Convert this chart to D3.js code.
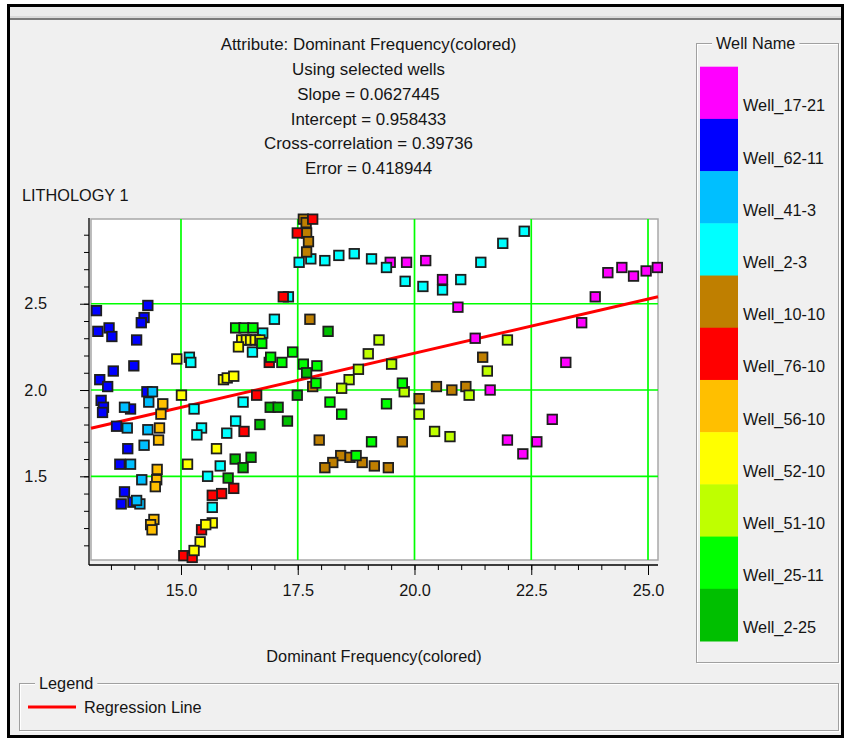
<!DOCTYPE html>
<html><head><meta charset="utf-8">
<script src="https://cdn.jsdelivr.net/npm/d3@7"></script>
<style>
body{margin:0;background:#fff}
text{font-family:"Liberation Sans",Arial,sans-serif;font-size:16.3px;fill:#151515}
</style>
</head><body>
<svg id="c" width="849" height="740"></svg>
<script>
// ---------------- DATA ----------------
const wellNames = ["Well_17-21","Well_62-11","Well_41-3","Well_2-3","Well_10-10","Well_76-10","Well_56-10","Well_52-10","Well_51-10","Well_25-11","Well_2-25"];
const wellColors = ["#ff00ff","#0000ff","#00bfff","#00ffff","#bf7f00","#ff0000","#ffbf00","#ffff00","#bfff00","#00ff00","#00bf00"];

const well_17_21 = [[19.48,2.74],[19.83,2.74],[20.24,2.75],[20.60,2.64],[20.93,2.48],[24.14,2.68],[24.44,2.71],[24.69,2.66],[24.96,2.69],[25.20,2.71],[23.87,2.54],[23.58,2.39],[21.30,2.30],[23.24,2.16],[21.62,2.00],[22.95,1.83],[21.99,1.71],[22.62,1.70],[22.32,1.63]];
const well_62_11 = [[13.19,2.46],[13.22,2.34],[13.46,2.36],[13.52,2.31],[14.29,2.49],[14.21,2.42],[14.15,2.39],[14.05,2.29],[13.99,2.14],[13.55,2.11],[13.26,2.06],[13.43,2.02],[13.29,1.94],[13.34,1.90],[13.32,1.87],[13.62,1.79],[13.92,1.89],[13.86,1.66],[13.69,1.57],[13.79,1.41],[13.72,1.34],[14.27,1.99],[13.97,1.35]];
const well_41_3 = [[13.85,1.78],[13.79,1.90],[13.92,1.57],[14.12,1.34],[14.05,1.36],[14.16,1.48],[14.21,1.68],[14.29,1.77],[14.39,1.99],[14.31,1.93]];
const well_2_3 = [[15.18,2.19],[15.21,2.16],[15.28,1.89],[15.44,1.78],[15.34,1.74],[15.98,1.75],[16.17,1.82],[16.33,1.93],[15.84,1.56],[15.57,1.50],[15.67,1.32],[16.53,2.22],[16.75,2.33],[17.00,2.41],[17.30,2.54],[17.53,2.74],[17.78,2.76],[18.08,2.75],[18.38,2.78],[18.71,2.79],[19.08,2.76],[19.40,2.71],[19.80,2.63],[20.18,2.60],[20.60,2.58],[20.99,2.64],[21.42,2.74],[21.89,2.85],[22.35,2.92]];
const well_10_10 = [[17.62,2.99],[17.68,2.97],[17.69,2.91],[17.73,2.86],[17.69,2.80],[17.76,2.41],[17.82,2.02],[20.47,2.02],[20.80,2.00],[21.10,2.02],[20.10,1.95],[21.46,2.19],[17.96,1.71],[19.74,1.70],[18.42,1.62],[18.62,1.61],[18.25,1.58],[18.08,1.55],[18.88,1.58],[19.14,1.56],[19.44,1.55]];
const well_76_10 = [[17.82,2.99],[17.49,2.91],[17.19,2.54],[16.62,1.97],[16.35,1.76],[16.89,2.16],[16.13,1.43],[15.87,1.40],[15.67,1.39],[15.44,1.19],[15.06,1.04],[15.24,1.03]];
const well_56_10 = [[14.61,1.92],[14.57,1.86],[14.54,1.78],[14.52,1.71],[14.49,1.54],[14.48,1.48],[14.45,1.44],[14.42,1.25],[14.35,1.22],[14.38,1.19]];
const well_52_10 = [[15.01,1.97],[14.91,2.18],[15.91,2.06],[15.99,2.07],[16.13,2.08],[16.30,2.29],[16.40,2.29],[16.49,2.29],[16.59,2.29],[16.69,2.29],[16.23,2.25],[15.76,1.66],[15.14,1.57],[15.67,1.23],[15.53,1.22],[15.41,1.12],[15.28,1.07]];
const well_51_10 = [[19.24,2.29],[19.01,2.21],[19.51,2.15],[18.80,2.12],[18.60,2.06],[18.44,2.01],[19.78,1.99],[21.17,1.97],[20.10,1.86],[20.43,1.76],[20.76,1.73],[21.99,2.29],[21.56,2.11]];
const well_25_11 = [[16.17,2.36],[16.35,2.36],[16.54,2.36],[16.73,2.27],[16.92,2.19],[17.16,2.16],[17.39,2.22],[17.62,2.15],[17.91,2.14],[17.89,2.04],[19.74,2.04],[18.19,1.93],[18.44,1.86],[19.40,1.92],[19.08,1.70],[18.75,1.62]];
const well_2_25 = [[16.69,1.80],[16.91,1.90],[17.08,1.90],[16.16,1.60],[16.50,1.61],[16.33,1.55],[16.01,1.49],[17.28,1.82],[17.49,1.97],[17.69,2.10],[18.15,2.34]];

const wellPoints = [well_17_21,well_62_11,well_41_3,well_2_3,well_10_10,well_76_10,well_56_10,well_52_10,well_51_10,well_25_11,well_2_25];

const titleLines = ["Attribute: Dominant Frequency(colored)","Using selected wells","Slope = 0.0627445","Intercept = 0.958433","Cross-correlation = 0.39736","Error = 0.418944"];
const slope = 0.0627445, intercept = 0.958433;
const xMajorTicks = [15, 17.5, 20, 22.5, 25];
const xMinorTicks = [13.5,14,14.5,15,15.5,16,16.5,17,17.5,18,18.5,19,19.5,20,20.5,21,21.5,22,22.5,23,23.5,24,24.5,25];
const yMajorTicks = [1.5, 2.0, 2.5];
const yMinorTicks = [1.1,1.2,1.3,1.4,1.5,1.6,1.7,1.8,1.9,2.0,2.1,2.2,2.3,2.4,2.5,2.6,2.7,2.8,2.9];
const yAxisTitle = "LITHOLOGY 1";
const xAxisTitle = "Dominant Frequency(colored)";
const legendTitle = "Well Name";

// ---------------- DRAW ----------------
const svg = d3.select("#c");
const P = {l:91, r:658, t:219, b:560};

// window frame
svg.append("rect").attr("x",8.5).attr("y",5.5).attr("width",834).attr("height",731)
  .attr("fill","#f0f0f0").attr("stroke","#000").attr("stroke-width",3);
svg.append("rect").attr("x",10).attr("y",7).attr("width",831).attr("height",10).attr("fill","#ebebeb");
svg.append("line").attr("x1",10).attr("x2",841).attr("y1",17).attr("y2",17).attr("stroke","#c4c4c4").attr("stroke-width",1);
svg.append("line").attr("x1",10).attr("x2",841).attr("y1",19).attr("y2",19).attr("stroke","#7a7a7a").attr("stroke-width",2);

// title
svg.append("g").selectAll("text").data(titleLines).join("text")
  .attr("x",368.5).attr("y",(d,i)=>44.5+24.7*i).attr("dy","0.35em")
  .attr("text-anchor","middle").style("font-size","16.9px").text(d=>d);
svg.append("text").attr("x",22).attr("y",195.5).attr("dy","0.35em").text(yAxisTitle);

const x = d3.scaleLinear().domain([13.073, 25.214]).range([P.l, P.r]);
const y = d3.scaleLinear().domain([1.015, 2.991]).range([P.b, P.t]);

// plot area
svg.append("rect").attr("x",P.l).attr("y",P.t).attr("width",P.r-P.l).attr("height",P.b-P.t)
  .attr("fill","#fff").attr("stroke","#a8a8a8").attr("stroke-width",1.5);

// gridlines
const grid = svg.append("g").attr("stroke","#00ff00").attr("stroke-width",1.7);
grid.selectAll(".gx").data(xMajorTicks).join("line")
  .attr("x1",d=>x(d)).attr("x2",d=>x(d)).attr("y1",P.t).attr("y2",P.b);
grid.selectAll(".gy").data(yMajorTicks).join("line")
  .attr("x1",P.l).attr("x2",P.r).attr("y1",d=>y(d)).attr("y2",d=>y(d));

// axes
const axY = 89, axX = 565;
function styleAxis(g){ g.select(".domain").remove(); g.selectAll(".tick line").attr("stroke","#000"); g.selectAll("text").attr("font-size",null).attr("font-family",null).attr("fill","#151515"); }
svg.append("g").attr("transform",`translate(${axY},0)`)
  .call(d3.axisLeft(y).tickValues(yMinorTicks).tickSize(5).tickFormat("")).call(styleAxis);
svg.append("g").attr("transform",`translate(${axY},0)`)
  .call(d3.axisLeft(y).tickValues(yMajorTicks).tickSize(9).tickPadding(33).tickFormat(d3.format(".1f"))).call(styleAxis);
svg.append("g").attr("transform",`translate(0,${axX})`)
  .call(d3.axisBottom(x).tickValues(xMinorTicks).tickSize(5).tickFormat("")).call(styleAxis);
svg.append("g").attr("transform",`translate(0,${axX})`)
  .call(d3.axisBottom(x).tickValues(xMajorTicks).tickSize(10).tickPadding(9).tickFormat(d3.format(".1f"))).call(styleAxis);
svg.append("line").attr("x1",axY).attr("x2",axY).attr("y1",P.t-1).attr("y2",axX).attr("stroke","#000").attr("stroke-width",1.3);
svg.append("line").attr("x1",axY).attr("x2",P.r).attr("y1",axX).attr("y2",axX).attr("stroke","#000").attr("stroke-width",1.3);

svg.append("text").attr("x",374).attr("y",656).attr("dy","0.35em").attr("text-anchor","middle").text(xAxisTitle);

// regression line
const dom = x.domain();
svg.append("line")
  .attr("x1",x(dom[0])).attr("y1",y(slope*dom[0]+intercept))
  .attr("x2",x(dom[1])).attr("y2",y(slope*dom[1]+intercept))
  .attr("stroke","#ff0000").attr("stroke-width",3);

// points
const pts = [];
wellPoints.forEach((arr,i)=>arr.forEach(p=>pts.push({x:p[0],y:p[1],c:wellColors[i]})));
const S = 9.5;
svg.append("g").selectAll("rect").data(pts).join("rect")
  .attr("x",d=>x(d.x)-S/2).attr("y",d=>y(d.y)-S/2).attr("width",S).attr("height",S)
  .attr("fill",d=>d.c).attr("stroke","#1e1e1e").attr("stroke-width",1.8);

// group box helper
function groupBox(x0,y0,x1,y1,title,tx){
  const g = svg.append("g");
  g.append("rect").attr("x",x0+1).attr("y",y0+1).attr("width",x1-x0).attr("height",y1-y0).attr("fill","none").attr("stroke","#fff");
  g.append("rect").attr("x",x0).attr("y",y0).attr("width",x1-x0).attr("height",y1-y0).attr("fill","none").attr("stroke","#a0a0a0");
  const t = g.append("text").attr("x",tx).attr("y",y0).attr("dy","0.35em").text(title);
  const bb = t.node().getBBox();
  g.insert("rect","text").attr("x",bb.x-4).attr("y",y0-3).attr("width",bb.width+8).attr("height",6).attr("fill","#f0f0f0");
  return g;
}

// well legend
groupBox(696.5,43.5,838.5,662.5,legendTitle,716);
const lgY = d3.scaleBand().domain(wellNames).range([66.7,641]).padding(0);
const lg = svg.append("g");
lg.selectAll("rect").data(wellNames).join("rect")
  .attr("x",700).attr("y",d=>lgY(d)).attr("width",38).attr("height",lgY.bandwidth()+0.5)
  .attr("fill",(d,i)=>wellColors[i]);
lg.selectAll("text").data(wellNames).join("text")
  .attr("x",743).attr("y",d=>lgY(d)+39).attr("dy","0.35em").text(d=>d);

// bottom legend
groupBox(19.5,683.5,838.5,730.5,"Legend",39);
svg.append("line").attr("x1",28).attr("x2",76).attr("y1",707).attr("y2",707).attr("stroke","#ff0000").attr("stroke-width",3);
svg.append("text").attr("x",84).attr("y",707).attr("dy","0.35em").text("Regression Line");
</script>
</body></html>
